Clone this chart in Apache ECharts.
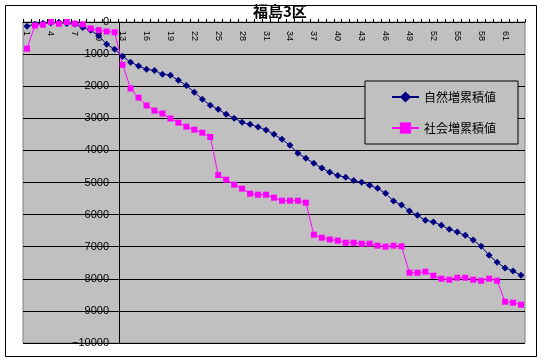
<!DOCTYPE html>
<html>
<head>
<meta charset="utf-8">
<script src="https://cdn.jsdelivr.net/npm/echarts@6/dist/echarts.min.js"></script>
<style>
html,body{margin:0;padding:0;background:#fff;}
#chart{width:549px;height:363px;}
</style>
</head>
<body>
<div id="chart"></div>
<script>
const titleText = '福島3区';
const seriesNames = ['自然増累積値', '社会増累積値'];
const categories = [];
for (let i = 1; i <= 63; i++) categories.push(String(i));

const naturalCum = [
  -130, -70, -40, -30, -10, -50, -60, -170, -260, -430,
  -690, -850, -1070, -1250, -1370, -1475, -1510, -1625, -1660, -1816,
  -1980, -2185, -2410, -2590, -2720, -2876, -2995, -3125, -3187, -3271,
  -3364, -3500, -3655, -3842, -4090, -4246, -4400, -4550, -4683, -4780,
  -4838, -4935, -4994, -5083, -5182, -5338, -5576, -5700, -5888, -6023,
  -6178, -6230, -6334, -6459, -6542, -6646, -6791, -6988, -7269, -7487,
  -7664, -7757, -7891
];
const socialCum = [
  -830, -110, -85, 0, -55, 0, -50, -75, -200, -255,
  -295, -320, -1335, -2070, -2357, -2600, -2760, -2850, -3005, -3136,
  -3261, -3354, -3448, -3583, -4766, -4912, -5067, -5192, -5348, -5380,
  -5380, -5473, -5567, -5567, -5567, -5629, -6626, -6720, -6775, -6810,
  -6875, -6875, -6906, -6906, -6968, -7000, -6968, -6990, -7810, -7810,
  -7778, -7903, -7997, -8028, -7966, -7966, -8028, -8060, -7997, -8060,
  -8713, -8745, -8807
];
const yMin = -10000, yMax = 0, yStep = 1000;
const yTickLabels = ['−10000', '9000', '8000', '7000', '6000', '5000', '4000', '3000', '2000', '1000', '0'];

const chart = echarts.init(document.getElementById('chart'), null, {renderer: 'canvas'});
chart.setOption({
  animation: false,
  backgroundColor: '#ffffff',
  textStyle: {fontFamily: "'Liberation Sans', 'Noto Sans CJK JP', sans-serif"},
  graphic: [{
    type: 'rect', z: -10, silent: true,
    shape: {x: 5.5, y: 5.5, width: 531, height: 351},
    style: {fill: 'none', stroke: '#000', lineWidth: 1}
  }],
  title: {
    text: titleText, left: 253, top: 4, padding: 0,
    textStyle: {fontSize: 15, fontWeight: 'bold', color: '#000', fontFamily: "'Noto Sans CJK JP', sans-serif"}
  },
  legend: {
    orient: 'vertical', left: 365, top: 81,
    backgroundColor: '#c0c0c0', borderColor: '#000', borderWidth: 1,
    padding: [10, 22, 10, 26], itemGap: 19, itemWidth: 27, itemHeight: 14,
    textStyle: {fontSize: 12, color: '#000', fontFamily: "'Noto Sans CJK JP', sans-serif"},
    data: seriesNames
  },
  grid: {
    left: 23, top: 22, width: 502, height: 321,
    show: true, backgroundColor: '#c0c0c0', borderColor: '#808080', borderWidth: 1
  },
  xAxis: {
    type: 'category', position: 'top', data: categories, boundaryGap: true,
    axisLine: {onZero: false, lineStyle: {color: '#000', width: 1}},
    axisTick: {show: true, inside: false, length: 3, interval: 0, lineStyle: {color: '#000'}},
    axisLabel: {inside: true, rotate: 90, interval: 2, fontSize: 9, color: '#000', margin: 9},
    splitLine: {show: false}
  },
  yAxis: {
    type: 'value', min: yMin, max: yMax, interval: yStep, position: 'left', offset: -96,
    axisLine: {show: true, onZero: false, lineStyle: {color: '#000', width: 1}},
    axisTick: {show: true, inside: true, length: 3, lineStyle: {color: '#000'}},
    axisLabel: {
      fontSize: 11, color: '#000', margin: 10, showMinLabel: true,
      formatter: function (v, idx) {
        const k = Math.round((Number(v) - yMin) / yStep);
        return yTickLabels[k] !== undefined ? yTickLabels[k] : yTickLabels[idx];
      }
    },
    splitLine: {show: true, lineStyle: {color: '#000', width: 1}}
  },
  series: [
    {
      name: seriesNames[0], type: 'line', data: naturalCum,
      symbol: 'diamond', symbolSize: 7, showAllSymbol: true,
      lineStyle: {color: '#000080', width: 1}, itemStyle: {color: '#000080'}
    },
    {
      name: seriesNames[1], type: 'line', data: socialCum,
      symbol: 'rect', symbolSize: 6, showAllSymbol: true,
      lineStyle: {color: '#ff00ff', width: 1}, itemStyle: {color: '#ff00ff'}
    }
  ]
});
</script>
</body>
</html>
